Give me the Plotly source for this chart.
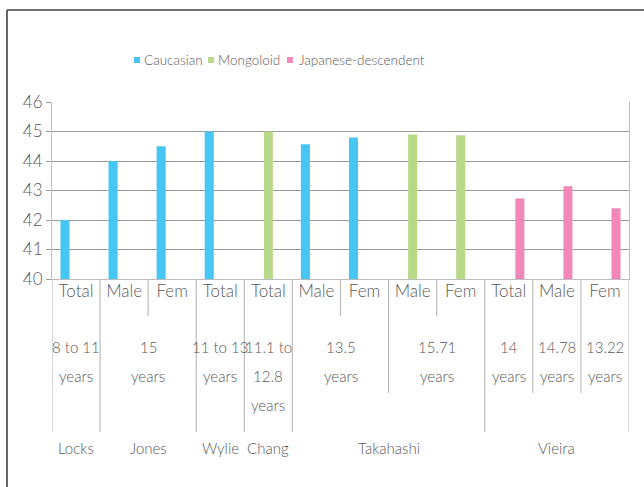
import plotly.graph_objects as go

# ---------------- data ----------------
studies = ["Locks", "Jones", "Jones", "Wylie", "Chang", "Takahashi", "Takahashi",
           "Takahashi", "Takahashi", "Vieira", "Vieira", "Vieira"]
ages = ["8 to 11|years", "15|years", "15|years", "11 to 13|years", "11.1 to|12.8|years",
        "13.5|years", "13.5|years", "15.71|years", "15.71|years",
        "14|years", "14.78|years", "13.22|years"]
sexes = ["Total", "Male", "Fem", "Total", "Total", "Male", "Fem", "Male", "Fem",
         "Total", "Male", "Fem"]
caucasian = [42.0, 44.0, 44.5, 45.0, None, 44.57, 44.8, None, None, None, None, None]
mongoloid = [None, None, None, None, 45.0, None, None, 44.9, 44.87, None, None, None]
japanese = [None, None, None, None, None, None, None, None, None, 42.73, 43.14, 42.4]
series_names = ["Caucasian", "Mongoloid", "Japanese-descendent"]
series_colors = ["#48C6F3", "#B9D98A", "#F288B8"]
y_ticks = [40, 41, 42, 43, 44, 45, 46]

# ---------------- layout constants ----------------
W, H = 644, 487
PL, PR, PT, PB = 52, 629, 102, 279          # plot area in pixels
FONT = "Lato, 'Open Sans', sans-serif"
GRAY_TXT = "#595959"
SEP = "#BDBDBD"
LEGEND_X = [134, 208, 287]                  # pixel x of legend squares
LEGEND_TXT_X = [142, 216, 297]              # pixel x of legend texts
LEGEND_Y = 60


def yp(pix):   # pixel y -> paper y
    return (PB - pix) / (PB - PT)


def xp(pix):   # pixel x -> paper x
    return (pix - PL) / (PR - PL)


x = list(range(len(sexes)))

fig = go.Figure()
for name, vals, col in zip(series_names, [caucasian, mongoloid, japanese], series_colors):
    fig.add_trace(go.Bar(x=x, y=vals, name=name, showlegend=False,
                         marker=dict(color=col, line=dict(width=0))))

shapes = []
annotations = []

# legend (compact, as in the original)
for lx, tx, name, col in zip(LEGEND_X, LEGEND_TXT_X, series_names, series_colors):
    shapes.append(dict(type="rect", xref="paper", yref="paper",
                       x0=xp(lx), x1=xp(lx + 6), y0=yp(LEGEND_Y - 3), y1=yp(LEGEND_Y + 3),
                       fillcolor=col, line=dict(width=0)))
    annotations.append(dict(x=xp(tx), xref="paper",
                            y=yp(LEGEND_Y), yref="paper", text=name, showarrow=False,
                            xanchor="left", yanchor="middle",
                            font=dict(family=FONT, size=13.5, color=GRAY_TXT, weight=300)))

# separators between categories (depth by the level where labels change)
n = len(sexes)
for b in range(n + 1):
    if b == 0 or b == n or studies[b] != studies[b - 1]:
        depth = 432
    elif ages[b] != ages[b - 1]:
        depth = 393
    else:
        depth = 316
    shapes.append(dict(type="line", xref="x", yref="paper", x0=b - 0.5, x1=b - 0.5,
                       y0=0, y1=yp(depth), line=dict(color=SEP, width=1.2)))


def groups(keys):
    out = []
    start = 0
    for i in range(1, n + 1):
        if i == n or keys[i] != keys[start]:
            out.append((start, i - 1))
            start = i
    return out


# level 2: ages
age_keys = [(s, a) for s, a in zip(studies, ages)]
for s0, s1 in groups(age_keys):
    lines = ages[s0].split("|")
    for k, line in enumerate(lines):
        annotations.append(dict(x=(s0 + s1) / 2, xref="x", y=yp(347 + 29 * k), yref="paper",
                                text=line, showarrow=False, xanchor="center", yanchor="middle",
                                font=dict(family=FONT, size=15, color=GRAY_TXT, weight=300)))

# level 3: studies
for s0, s1 in groups(studies):
    annotations.append(dict(x=(s0 + s1) / 2, xref="x", y=yp(448), yref="paper",
                            text=studies[s0], showarrow=False, xanchor="center",
                            yanchor="middle",
                            font=dict(family=FONT, size=15, color=GRAY_TXT, weight=300)))

# outer chart frame
shapes.append(dict(type="line", xref="paper", yref="paper", x0=xp(7), x1=xp(660),
                   y0=yp(10), y1=yp(10), line=dict(color="#404040", width=1.6)))
shapes.append(dict(type="line", xref="paper", yref="paper", x0=xp(7), x1=xp(7),
                   y0=yp(10), y1=yp(500), line=dict(color="#404040", width=1.6)))

fig.update_layout(
    width=W, height=H,
    margin=dict(l=PL, r=W - PR, t=PT, b=H - PB, pad=0),
    paper_bgcolor="white", plot_bgcolor="white",
    barmode="group", bargap=0.31, bargroupgap=0.18,
    font=dict(family=FONT, color=GRAY_TXT),
    showlegend=False,
    shapes=shapes, annotations=annotations,
)
fig.update_xaxes(range=[-0.5, n - 0.5], tickmode="array", tickvals=x, ticktext=sexes,
                 showgrid=False, showline=True, linecolor=SEP, linewidth=1.2,
                 ticks="", ticklabelstandoff=-4,
                 tickfont=dict(family=FONT, size=17, color=GRAY_TXT, weight=300))
fig.update_yaxes(range=[40, 46], tickmode="array", tickvals=y_ticks,
                 showgrid=True, gridcolor="#9A9A9A", gridwidth=1,
                 showline=True, linecolor=SEP, linewidth=1.2, mirror=True,
                 ticks="outside", ticklen=5, tickcolor="#9A9A9A",
                 tickfont=dict(family=FONT, size=17, color=GRAY_TXT, weight=300),
                 zeroline=False)

fig.write_html("out.html", config={"displayModeBar": False},
               post_script="document.body.style.margin='0';")
